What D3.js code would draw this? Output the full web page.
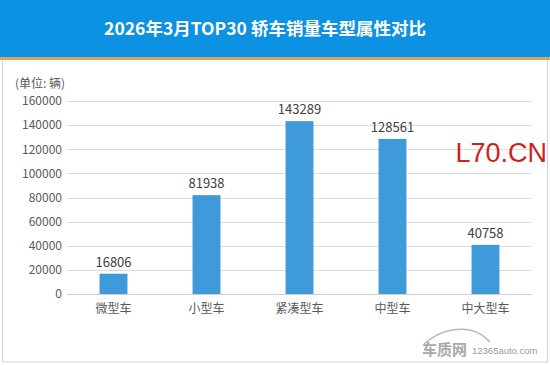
<!DOCTYPE html>
<html><head><meta charset="utf-8">
<script src="https://cdn.jsdelivr.net/npm/d3@7"></script>
<style>body{margin:0;background:#fff}svg{display:block}</style>
</head><body>
<svg id="c" width="550" height="365"></svg>
<script>
const categories = ["微型车","小型车","紧凑型车","中型车","中大型车"];
const values = [16806, 81938, 143289, 128561, 40758];
const yTicks = [0,20000,40000,60000,80000,100000,120000,140000,160000];
const title = "2026年3月TOP30 轿车销量车型属性对比";
const unitLabel = "(单位: 辆)";

const svg = d3.select("#c");
const font = "'Microsoft YaHei','Noto Sans CJK SC','Noto Sans',sans-serif";

// frame
svg.append("rect").attr("x",0).attr("y",0).attr("width",550).attr("height",365).attr("fill","#fff");
svg.append("rect").attr("x",2.5).attr("y",2.5).attr("width",545).attr("height",359.5)
  .attr("fill","none").attr("stroke","#d4d4d4").attr("stroke-width",1);
// header
svg.append("rect").attr("x",0).attr("y",0).attr("width",550).attr("height",57).attr("fill","#0d91e3");
svg.append("rect").attr("x",0).attr("y",57).attr("width",550).attr("height",3).attr("fill","#d6a852");
svg.append("text").attr("x",265).attr("y",35).attr("text-anchor","middle")
  .attr("fill","#fff").attr("font-family",font).attr("font-weight","bold").attr("font-size",17.5).text(title);

const x = d3.scaleBand().domain(categories).range([67,532]).paddingInner(0.7).paddingOuter(0.35);
const y = d3.scaleLinear().domain([0,160000]).range([294,101]);

// gridlines
const g = svg.append("g");
g.selectAll("line.grid").data(yTicks).join("line")
  .attr("x1",67).attr("x2",532).attr("y1",d=>Math.round(y(d))+0.5).attr("y2",d=>Math.round(y(d))+0.5)
  .attr("stroke",d=>d===0?"#cfcfcf":"#dcdcdc").attr("stroke-width",1);

// y axis labels
const yAxis = d3.axisLeft(y).tickValues(yTicks).tickSize(0).tickPadding(0).tickFormat(d3.format("d"));
const ya = svg.append("g").attr("transform","translate(62,0)").call(yAxis);
ya.select(".domain").remove();
ya.selectAll("text").attr("font-family",font).attr("font-size",12).attr("fill","#595959");

svg.append("text").attr("x",15).attr("y",88).attr("font-family",font).attr("font-size",12)
  .attr("fill","#595959").text(unitLabel);

// bars
svg.selectAll("rect.bar").data(values).join("rect").attr("class","bar")
  .attr("x",(d,i)=>x(categories[i])).attr("width",x.bandwidth())
  .attr("y",d=>y(d)).attr("height",d=>y(0)-y(d)).attr("fill","#3f9ad9");

// value labels
svg.selectAll("text.val").data(values).join("text").attr("class","val")
  .attr("x",(d,i)=>x(categories[i])+x.bandwidth()/2).attr("y",d=>y(d)-7)
  .attr("text-anchor","middle").attr("font-family",font).attr("font-size",13).attr("fill","#404040")
  .text(d=>d);

// x axis labels
const xAxis = d3.axisBottom(x).tickSize(0).tickPadding(0);
const xa = svg.append("g").attr("transform","translate(0,304)").call(xAxis);
xa.select(".domain").remove();
xa.selectAll("text").attr("font-family",font).attr("font-size",12).attr("fill","#595959").attr("dy","0.71em");

// watermark
svg.append("text").attr("x",547).attr("y",162).attr("text-anchor","end")
  .attr("font-family","'Liberation Sans',Arial,sans-serif").attr("font-size",27).attr("fill","#d21f1f").text("L70.CN");

// logo
svg.append("path").attr("d","M424,344 Q445,326 470,330 Q482,333 490,342").attr("fill","none").attr("stroke","#b9b9b9").attr("stroke-width",1.5);
svg.append("text").attr("x",422).attr("y",355).attr("font-family",font).attr("font-weight","bold")
  .attr("font-size",15).attr("fill","#a9a9a9").text("车质网");
svg.append("text").attr("x",472).attr("y",354).attr("font-family","'Liberation Sans',Arial,sans-serif")
  .attr("font-size",9.5).attr("fill","#9a9a9a").text("12365auto.com");
</script>
</body></html>
